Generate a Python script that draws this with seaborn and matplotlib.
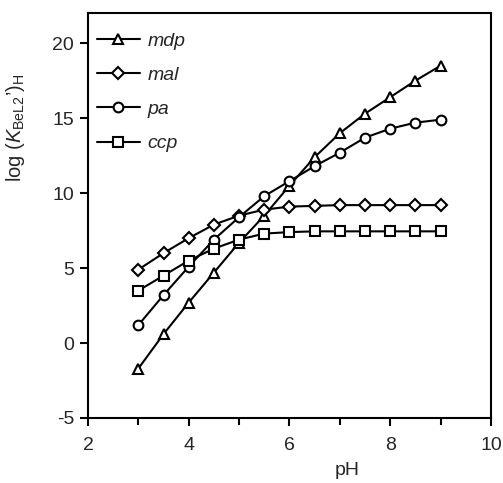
import matplotlib
matplotlib.use("Agg")
import matplotlib.pyplot as plt
import seaborn as sns
import pandas as pd
from matplotlib.ticker import MultipleLocator

pH = [3, 3.5, 4, 4.5, 5, 5.5, 6, 6.5, 7, 7.5, 8, 8.5, 9]
mdp = [-1.7, 0.6, 2.7, 4.7, 6.7, 8.5, 10.5, 12.4, 14.0, 15.3, 16.4, 17.5, 18.5]
mal = [4.9, 6.0, 7.0, 7.9, 8.5, 8.9, 9.1, 9.15, 9.2, 9.2, 9.2, 9.2, 9.2]
pa = [1.2, 3.2, 5.1, 6.9, 8.4, 9.8, 10.8, 11.8, 12.7, 13.7, 14.3, 14.7, 14.9]
ccp = [3.5, 4.5, 5.5, 6.3, 6.9, 7.3, 7.4, 7.45, 7.45, 7.45, 7.45, 7.45, 7.45]

series = ["mdp", "mal", "pa", "ccp"]
values = [mdp, mal, pa, ccp]
markers = ["^", "D", "o", "s"]
msizes = [7.5, 6.5, 7, 7]

sns.set_style("white")
plt.rcParams["font.family"] = ["Liberation Sans", "DejaVu Sans"]
plt.rcParams["mathtext.fontset"] = "custom"
plt.rcParams["mathtext.rm"] = "Liberation Sans"
plt.rcParams["mathtext.it"] = "Liberation Sans:italic"
plt.rcParams["axes.unicode_minus"] = False

fig = plt.figure(figsize=(5.03, 4.83), dpi=100)
ax = fig.add_axes([0.175, 0.1346, 0.801, 0.838])

for name, vals, m, ms in zip(series, values, markers, msizes):
    df = pd.DataFrame({"pH": pH, "v": vals})
    sns.lineplot(data=df, x="pH", y="v", ax=ax, color="k", marker=m,
                 markersize=ms, markerfacecolor="w", markeredgecolor="k",
                 markeredgewidth=1.5, linewidth=1.5, label=name, legend=False)

ax.set_xlim(2, 10)
ax.set_ylim(-5, 22)
ax.xaxis.set_major_locator(MultipleLocator(2))
ax.xaxis.set_minor_locator(MultipleLocator(1))
ax.yaxis.set_major_locator(MultipleLocator(5))
ax.tick_params(axis="both", which="both", direction="out", color="k",
               width=1.5, labelsize=14, bottom=True, left=True)
ax.tick_params(which="major", length=6)
ax.tick_params(which="minor", length=5)
ax.tick_params(axis="x", which="major", pad=8)
ax.tick_params(axis="y", which="major", pad=4)
for s in ax.spines.values():
    s.set_color("k")
    s.set_linewidth(1.5)

ax.set_xlabel("pH", fontsize=14)
ax.xaxis.set_label_coords(0.643, -0.108)
ax.set_ylabel(r"log ($K_{\mathrm{BeL2}}$’)$_{\mathrm{H}}$", fontsize=14.5)
ax.yaxis.set_label_coords(-0.151, 0.716)

leg = ax.legend(loc="upper left", frameon=False, handlelength=2.2,
                fontsize=14, labelspacing=0.85, handletextpad=0.4,
                borderaxespad=0.0, numpoints=1, bbox_to_anchor=(0.003, 0.972))
for t in leg.get_texts():
    t.set_fontstyle("italic")

fig.savefig("out.png", dpi=100)
